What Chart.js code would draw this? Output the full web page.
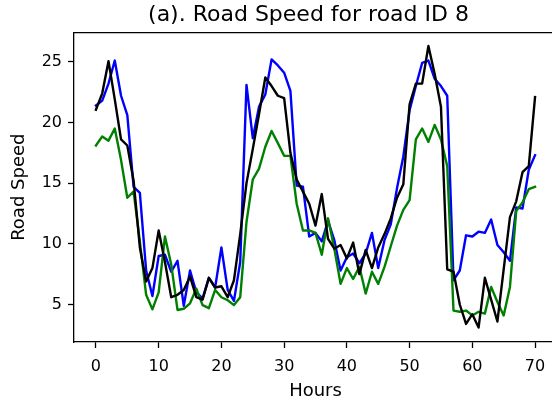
<!DOCTYPE html>
<html lang="en">
<head>
  <meta charset="UTF-8" />
  <title>Road Speed for road ID 8</title>
  <script src="https://cdn.jsdelivr.net/npm/chart.js@4.4.0/dist/chart.umd.min.js"></script>
  <style>
    * { margin: 0; padding: 0; box-sizing: border-box; }
    html, body { width: 552px; height: 403px; overflow: hidden; background: #ffffff; }
    #wrap { width: 557px; height: 403px; }
  </style>
</head>
<body>
  <div id="wrap"><canvas id="speedChart" width="557" height="403"></canvas></div>
  <script>
    // Hours on the x axis
    const hours = [0, 1, 2, 3, 4, 5, 6, 7, 8, 9, 10, 11, 12, 13, 14, 15, 16, 17, 18, 19,
      20, 21, 22, 23, 24, 25, 26, 27, 28, 29, 30, 31, 32, 33, 34, 35, 36, 37, 38, 39,
      40, 41, 42, 43, 44, 45, 46, 47, 48, 49, 50, 51, 52, 53, 54, 55, 56, 57, 58, 59,
      60, 61, 62, 63, 64, 65, 66, 67, 68, 69, 70];

    // Road speed series
    const speedBlue = [21.4, 21.8, 23.2, 25.1, 22.2, 20.6, 14.7, 14.2, 7.8, 5.7,
      9.0, 9.1, 7.7, 8.6, 4.9, 7.8, 6.0, 5.5, 7.2, 6.4,
      9.7, 6.2, 5.3, 8.5, 23.1, 18.7, 21.3, 22.3, 25.2, 24.7,
      24.1, 22.6, 14.8, 14.7, 10.6, 10.9, 10.2, 11.9, 10.3, 7.8,
      8.9, 9.2, 8.4, 9.2, 10.9, 8.0, 10.3, 11.6, 14.6, 17.2,
      21.0, 23.0, 24.9, 25.1, 23.6, 23.0, 22.2, 7.0, 7.8, 10.7,
      10.6, 11.0, 10.9, 12.0, 9.9, 9.3, 8.6, 13.0, 12.9, 16.1, 17.3];

    const speedGreen = [18.1, 18.85, 18.5, 19.5, 16.9, 13.8, 14.3, 10.2, 5.8, 4.6,
      6.0, 10.6, 8.3, 4.55, 4.65, 5.1, 6.3, 4.95, 4.7, 6.2,
      5.6, 5.35, 4.95, 5.6, 11.8, 15.3, 16.2, 18.0, 19.3, 18.3,
      17.25, 17.25, 13.3, 11.1, 11.1, 10.9, 9.1, 12.1, 9.6, 6.7,
      8.0, 7.1, 8.1, 5.9, 7.7, 6.7, 8.1, 9.8, 11.5, 12.8,
      13.6, 18.6, 19.5, 18.4, 19.8, 18.6, 16.4, 4.5, 4.4, 4.5,
      4.1, 4.4, 4.25, 6.45, 5.2, 4.1, 6.45, 12.7, 13.4, 14.5, 14.7];

    const speedBlack = [21.05, 22.4, 25.05, 21.9, 18.6, 18.1, 15.2, 9.7, 6.9, 8.0,
      11.1, 8.5, 5.6, 5.8, 6.2, 7.3, 5.6, 5.4, 7.2, 6.4,
      6.5, 5.6, 7.0, 10.8, 15.0, 17.8, 20.7, 23.7, 23.0, 22.2,
      22.0, 17.5, 15.3, 14.3, 13.3, 11.5, 14.1, 10.4, 9.6, 9.9,
      8.8, 10.1, 7.5, 9.5, 8.0, 9.7, 10.8, 12.1, 13.8, 14.9,
      21.5, 23.2, 23.2, 26.3, 24.0, 21.3, 7.9, 7.7, 5.0, 3.4,
      4.2, 3.1, 7.2, 5.4, 3.6, 7.9, 12.2, 13.5, 15.9, 16.4, 22.1];

    // Tick labels
    const xTicks = [0, 10, 20, 30, 40, 50, 60, 70];
    const yTicks = [5, 10, 15, 20, 25];

    const toPoints = arr => hours.map((h, i) => ({ x: h, y: arr[i] }));
    const family = "'DejaVu Sans', sans-serif";
    const tickFont = { family: family, size: 16 };
    const labelFont = { family: family, size: 18 };
    const axisColor = '#000000';

    // the title in the picture sits a little left of the axes centre
    const titleShift = {
      id: 'titleShift',
      afterLayout(chart) {
        const t = chart.titleBlock;
        if (t) { t.left -= 7; t.right -= 7; }
      }
    };

    const ctx = document.getElementById('speedChart').getContext('2d');
    new Chart(ctx, {
      type: 'line',
      data: {
        datasets: [
          { label: 'black', data: toPoints(speedBlack), borderColor: '#000000', order: 1 },
          { label: 'green', data: toPoints(speedGreen), borderColor: '#008000', order: 2 },
          { label: 'blue', data: toPoints(speedBlue), borderColor: '#0000ff', order: 3 }
        ]
      },
      plugins: [titleShift],
      options: {
        responsive: false,
        animation: false,
        devicePixelRatio: 1,
        layout: { padding: 0 },
        elements: {
          point: { radius: 0 },
          line: { borderWidth: 2.4, tension: 0, fill: false, borderJoinStyle: 'round', borderCapStyle: 'square' }
        },
        plugins: {
          legend: { display: false },
          tooltip: { enabled: false },
          title: {
            display: true,
            text: '(a). Road Speed for road ID 8',
            fullSize: false,
            color: '#000000',
            font: { family: family, size: 22, weight: 'normal' },
            padding: { top: 2, bottom: 4 }
          }
        },
        scales: {
          x: {
            type: 'linear',
            min: -3.5,
            max: 73.5,
            afterBuildTicks: s => { s.ticks = xTicks.map(v => ({ value: v })); },
            afterFit: s => { s.height = 61; },
            grid: { drawOnChartArea: false, drawTicks: true, tickLength: 6, tickColor: axisColor, tickWidth: 1.3 },
            border: { display: true, color: axisColor, width: 1.3 },
            ticks: { color: '#000000', font: tickFont, padding: 9, maxRotation: 0, autoSkip: false },
            title: { display: true, text: 'Hours', color: '#000000', font: labelFont, padding: { top: 0, bottom: 1 } }
          },
          xTop: {
            type: 'linear',
            position: 'top',
            min: -3.5,
            max: 73.5,
            afterFit: s => { s.height = 0; },
            ticks: { display: false },
            grid: { drawOnChartArea: false, drawTicks: false },
            border: { display: true, color: axisColor, width: 1.3 }
          },
          y: {
            min: 1.91,
            max: 27.42,
            afterBuildTicks: s => { s.ticks = yTicks.map(v => ({ value: v })); },
            afterFit: s => { s.width = 74; },
            grid: { drawOnChartArea: false, drawTicks: true, tickLength: 6, tickColor: axisColor, tickWidth: 1.3 },
            border: { display: true, color: axisColor, width: 1.3 },
            ticks: { color: '#000000', font: tickFont, padding: 6 },
            title: { display: true, text: 'Road Speed', color: '#000000', font: labelFont, padding: { top: 9, bottom: 0 } }
          }
        }
      }
    });
  </script>
</body>
</html>
